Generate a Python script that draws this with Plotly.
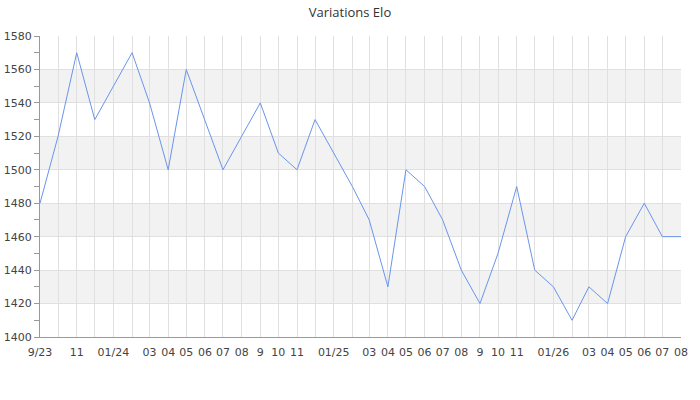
import plotly.graph_objs as go

# monthly Elo, Sep 2023 -> Aug 2026
months = ['2023-09-01', '2023-10-01', '2023-11-01', '2023-12-01',
          '2024-01-01', '2024-02-01', '2024-03-01', '2024-04-01',
          '2024-05-01', '2024-06-01', '2024-07-01', '2024-08-01',
          '2024-09-01', '2024-10-01', '2024-11-01', '2024-12-01',
          '2025-01-01', '2025-02-01', '2025-03-01', '2025-04-01',
          '2025-05-01', '2025-06-01', '2025-07-01', '2025-08-01',
          '2025-09-01', '2025-10-01', '2025-11-01', '2025-12-01',
          '2026-01-01', '2026-02-01', '2026-03-01', '2026-04-01',
          '2026-05-01', '2026-06-01', '2026-07-01', '2026-08-01']
elo = [1480, 1520, 1570, 1530, 1550, 1570, 1540, 1500, 1560, 1530, 1500, 1520,
       1540, 1510, 1500, 1530, 1510, 1490, 1470, 1430, 1500, 1490, 1470, 1440,
       1420, 1450, 1490, 1440, 1430, 1410, 1430, 1420, 1460, 1480, 1460, 1460]
tick_labels = ['9/23', '', '11', '', '01/24', '', '03', '04', '05', '06', '07', '08',
               '9', '10', '11', '', '01/25', '', '03', '04', '05', '06', '07', '08',
               '9', '10', '11', '', '01/26', '', '03', '04', '05', '06', '07', '08']
bands = [(1420, 1440), (1460, 1480), (1500, 1520), (1540, 1560)]

fig = go.Figure(go.Scatter(
    x=months, y=elo, mode='lines',
    line=dict(color='#6995ec', width=1),
    showlegend=False,
))

for lo, hi in bands:
    fig.add_shape(type='rect', xref='paper', yref='y', x0=0, x1=1, y0=lo, y1=hi,
                  fillcolor='#f2f2f2', line_width=0, layer='below')

fig.update_layout(
    width=700, height=400,
    margin=dict(l=40, r=19, t=36, b=63, autoexpand=False),
    paper_bgcolor='white', plot_bgcolor='white',
    font=dict(family='DejaVu Sans', size=11, color='#444'),
    title=dict(text='Variations Elo', x=0.5, xanchor='center',
               yref='container', y=0.97, yanchor='middle',
               font=dict(family='Open Sans', size=13, color='#333')),
)
fig.update_xaxes(
    type='date', range=[months[0], months[-1]],
    tickmode='array', tickvals=months, ticktext=tick_labels, tickangle=0,
    ticklabelstandoff=5,
    showgrid=True, gridcolor='#e0e0e0', gridwidth=1,
    showline=True, linecolor='#999', linewidth=1,
    ticks='', zeroline=False, automargin=False,
)
fig.update_yaxes(
    range=[1400, 1580], dtick=20, tick0=1400,
    showgrid=True, gridcolor='#e0e0e0', gridwidth=1,
    showline=True, linecolor='#999', linewidth=1,
    ticks='outside', ticklen=5, tickcolor='#999',
    minor=dict(dtick=10, ticks='outside', ticklen=5, tickcolor='#999', showgrid=False),
    zeroline=False, automargin=False,
)

# drop the default 8px body margin so the chart sits at the page corner
fig.write_html("out.html", config={'displayModeBar': False},
               post_script="document.body.style.margin = '0';")
